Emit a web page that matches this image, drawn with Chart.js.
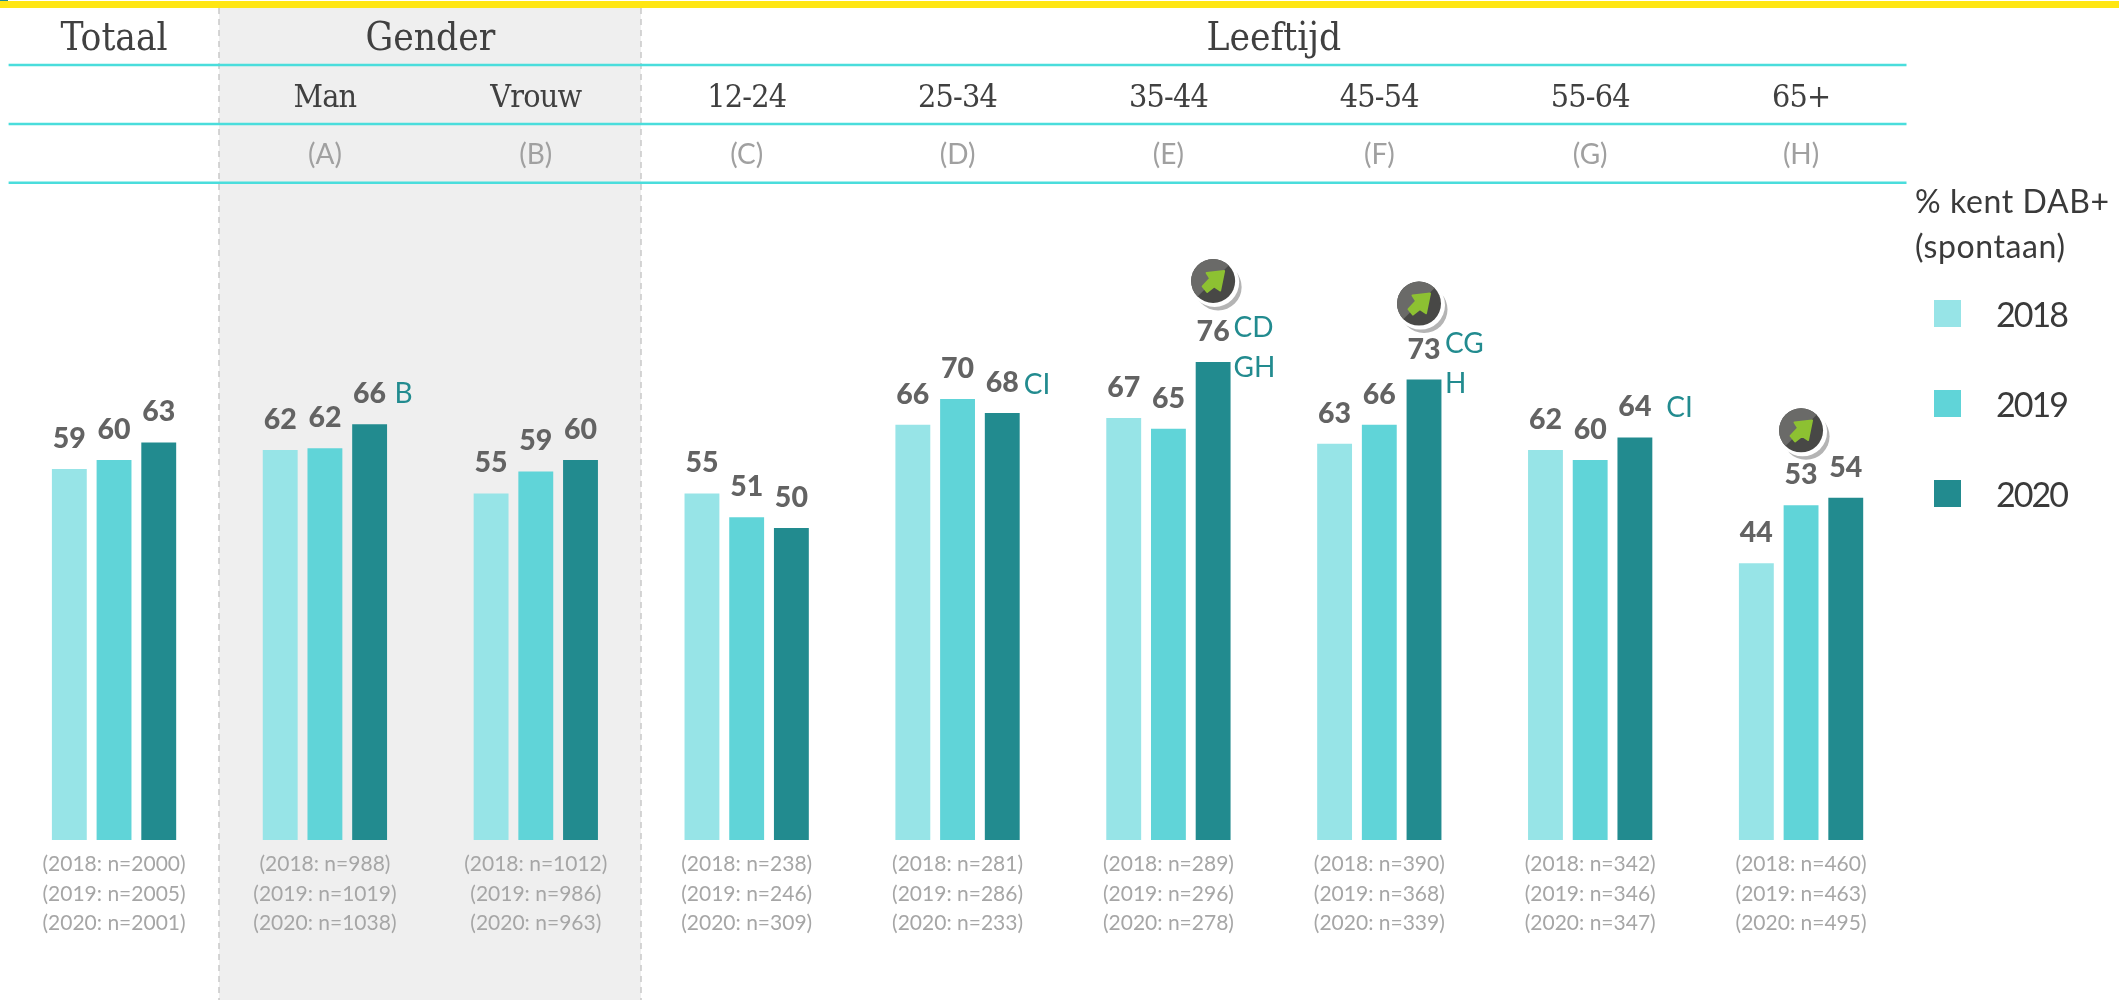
<!DOCTYPE html>
<html lang="nl">
<head>
<meta charset="utf-8">
<title>% kent DAB+ (spontaan)</title>
<script src="https://cdn.jsdelivr.net/npm/chart.js@4"></script>
<style>html,body{margin:0;padding:0;background:#fff}canvas{display:block}</style>
</head>
<body>
<canvas id="c" width="2119" height="1000"></canvas>
<script>
const categories = ['Totaal','Man','Vrouw','12-24','25-34','35-44','45-54','55-64','65+'];
const rowLetters = ['','(A)','(B)','(C)','(D)','(E)','(F)','(G)','(H)'];
const years = ['2018','2019','2020'];
const values2018 = [59.0,62.0,55.1,55.1,66.0,67.1,63.0,62.0,44.0];
const values2019 = [60.4,62.3,58.6,51.3,70.1,65.4,66.0,60.4,53.2];
const values2020 = [63.2,66.1,60.4,49.6,67.9,76.0,73.2,64.0,54.4];
const n2018 = [2000,988,1012,238,281,289,390,342,460];
const n2019 = [2005,1019,986,246,286,296,368,346,463];
const n2020 = [2001,1038,963,309,233,278,339,347,495];
const sigLine1 = ['','B','','','CI','CD','CG','CI',''];
const sigLine2 = ['','','','','','GH','H','',''];
const trendDataset = [null,null,null,null,null,2,2,null,1];
const legendTitle = ['% kent DAB+','(spontaan)'];

const COLORS = ['#97E4E7','#60D4D8','#228B8F'];
const SIG_STYLE = {1:{dx:7.5,dy:-21.6},4:{dx:4,dy:-18.7},5:{dx:3,dy:-25},6:{dx:3.5,dy:-27},7:{dx:14,dy:-20}};
const TREND_STYLE = {5:{dx:0,dy:-81},6:{dx:-5,dy:-76},8:{dx:0,dy:-75}};

function text(ctx,s,x,y,font,color,align,spacing){
  ctx.font=font;ctx.fillStyle=color;ctx.textAlign=align||'center';ctx.textBaseline='alphabetic';
  ctx.letterSpacing=(spacing||0)+'px';
  ctx.fillText(s,x,y);
  ctx.letterSpacing='0px';
}
function trendIcon(ctx,x,y){
  ctx.save();
  ctx.translate(x,y);
  ctx.fillStyle='#B4B4B4';ctx.beginPath();ctx.arc(5,6,23.5,0,Math.PI*2);ctx.fill();
  ctx.fillStyle='#FFFFFF';ctx.beginPath();ctx.arc(1.5,1.5,24.5,0,Math.PI*2);ctx.fill();
  ctx.save();
  ctx.beginPath();ctx.arc(0,0,22,0,Math.PI*2);ctx.clip();
  ctx.fillStyle='#484846';ctx.fillRect(-23,-23,46,46);
  ctx.fillStyle='#6A6A68';ctx.beginPath();ctx.moveTo(-23,23);ctx.lineTo(23,-23);ctx.lineTo(-23,-23);ctx.closePath();ctx.fill();
  ctx.restore();
  const p=[[11,-10],[-6.5,-8],[-3,-2.5],[-10.5,5.5],[-6,11],[1,5.5],[7,9.5]];
  ctx.fillStyle=ctx.strokeStyle='#8DC132';ctx.lineWidth=2;ctx.lineJoin='round';
  ctx.beginPath();p.forEach((q,i)=>i?ctx.lineTo(q[0],q[1]):ctx.moveTo(q[0],q[1]));ctx.closePath();ctx.fill();ctx.stroke();
  ctx.restore();
}

const backdrop = {
  id:'backdrop',
  beforeDatasetsDraw(chart){
    const {ctx,scales:{x}}=chart;
    const left=8.6,right=chart.chartArea.right;
    const panelL=219,panelR=641;
    ctx.save();
    ctx.fillStyle='#FFE614';ctx.fillRect(0,1,chart.width,7);
    ctx.fillStyle='#228B8F';ctx.fillRect(0,0,8,1);
    ctx.fillStyle='#EFEFEF';ctx.fillRect(panelL,8,panelR-panelL,992);
    ctx.strokeStyle='#C9C9C9';ctx.lineWidth=1.5;ctx.setLineDash([6,5]);
    [panelL,panelR].forEach(v=>{ctx.beginPath();ctx.moveTo(v,8);ctx.lineTo(v,1000);ctx.stroke();});
    ctx.setLineDash([]);
    ctx.strokeStyle='#4ADDDC';ctx.lineWidth=2.4;
    [65,124,182.7].forEach(v=>{ctx.beginPath();ctx.moveTo(left,v);ctx.lineTo(right,v);ctx.stroke();});
    const head='38.5px "DejaVu Serif Condensed","DejaVu Serif"';
    const sub='32px "DejaVu Serif Condensed","DejaVu Serif"';
    const dark='#404040';
    text(ctx,categories[0],x.getPixelForValue(0),50,head,dark);
    text(ctx,'Gender',(x.getPixelForValue(1)+x.getPixelForValue(2))/2,50,head,dark);
    text(ctx,'Leeftijd',(x.getPixelForValue(3)+x.getPixelForValue(8))/2,50,head,dark);
    categories.forEach((c,i)=>{
      const cx=x.getPixelForValue(i);
      if(i>0){
        text(ctx,c,cx,107,sub,dark,'center',-0.8);
        text(ctx,rowLetters[i],cx,164,'28px Lato','#A0A0A0');
      }
      [n2018,n2019,n2020].forEach((arr,k)=>{
        text(ctx,'('+years[k]+': n='+arr[i]+')',cx,871+k*29.6,'21px Lato','#A6A6A6');
      });
    });
    ctx.restore();
  },
  afterDatasetsDraw(chart){
    const {ctx}=chart;
    const metas=chart.data.datasets.map((d,i)=>chart.getDatasetMeta(i));
    ctx.save();
    metas.forEach((m,k)=>{
      m.data.forEach((bar,i)=>{
        text(ctx,String(Math.round(chart.data.datasets[k].data[i])),bar.x,bar.y-21,'900 28.5px Lato','#636363');
      });
    });
    categories.forEach((c,i)=>{
      const s=SIG_STYLE[i];
      if(s){
        const bar=metas[2].data[i];
        const l=bar.x+bar.width/2+s.dx;
        text(ctx,sigLine1[i],l,bar.y+s.dy,'28px Lato','#228B8F','left');
        if(sigLine2[i]) text(ctx,sigLine2[i],l,bar.y+s.dy+40,'28px Lato','#228B8F','left');
      }
      if(trendDataset[i]!==null){
        const bar=metas[trendDataset[i]].data[i],t=TREND_STYLE[i];
        trendIcon(ctx,bar.x+t.dx,bar.y+t.dy);
      }
    });
    text(ctx,legendTitle[0],1915,213,'32px Lato','#3A3A3A','left',0.6);
    text(ctx,legendTitle[1],1915,258,'32px Lato','#3A3A3A','left',0.6);
    years.forEach((y,k)=>{
      ctx.fillStyle=COLORS[k];
      ctx.fillRect(1934,300+k*90,27,27);
      text(ctx,y,1996,326.7+k*90,'34px Lato','#3A3A3A','left',-2);
    });
    ctx.restore();
  }
};

new Chart(document.getElementById('c'),{
  type:'bar',
  data:{
    labels:categories,
    datasets:[values2018,values2019,values2020].map((d,k)=>({
      label:years[k],data:d,backgroundColor:COLORS[k],borderWidth:0,
      categoryPercentage:0.636,barPercentage:0.78
    }))
  },
  options:{
    responsive:false,animation:false,
    layout:{padding:{left:8.6,right:212.5,top:211,bottom:160}},
    plugins:{legend:{display:false},tooltip:{enabled:false},title:{display:false}},
    scales:{
      x:{display:false,grid:{display:false}},
      y:{display:false,min:0,max:100,grid:{display:false}}
    }
  },
  plugins:[backdrop]
});
</script>
</body>
</html>
